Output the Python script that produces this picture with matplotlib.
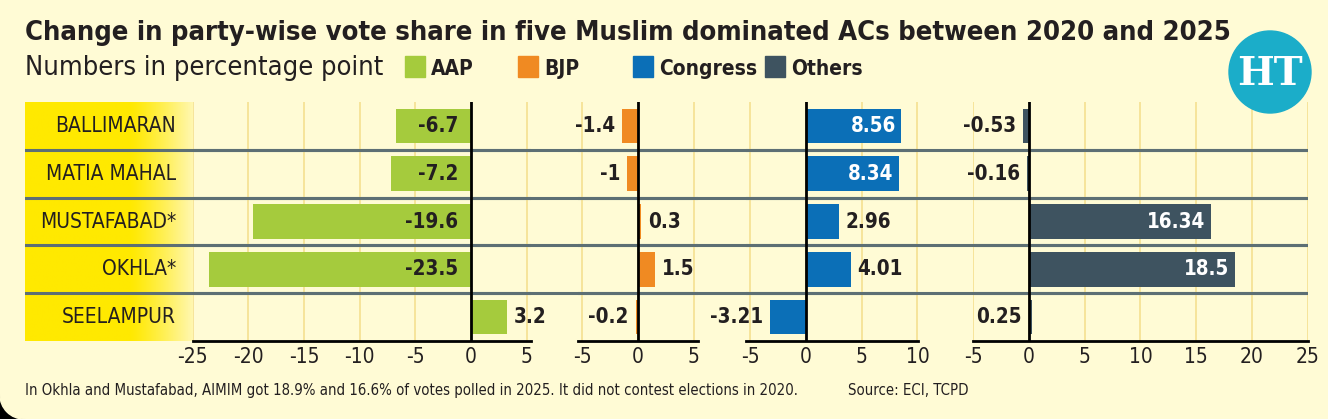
import matplotlib
matplotlib.use("Agg")
import matplotlib.pyplot as plt
from matplotlib import font_manager
import numpy as np
from matplotlib.patches import Rectangle, Circle
from matplotlib.transforms import blended_transform_factory

# data
constituencies = ["BALLIMARAN", "MATIA MAHAL", "MUSTAFABAD*", "OKHLA*", "SEELAMPUR"]
parties = ["AAP", "BJP", "Congress", "Others"]
aap = [-6.7, -7.2, -19.6, -23.5, 3.2]
bjp = [-1.4, -1, 0.3, 1.5, -0.2]
congress = [8.56, 8.34, 2.96, 4.01, -3.21]
others = [-0.53, -0.16, 16.34, 18.5, 0.25]

colors = ["#a5cb3d", "#f08a22", "#0b6fb7", "#3e5360"]
bg = "#fffbd5"
ink = "#231f20"

# look for a condensed face, else fall back to Roboto
narrow = [f for f in font_manager.fontManager.ttflist
          if f.stretch in ("condensed", "semi-condensed", "extra-condensed")
          or "Condensed" in f.name or "Narrow" in f.name]
fam = narrow[0].name if narrow else "Roboto"
stretch = narrow[0].stretch if narrow else "normal"
plt.rcParams["font.family"] = [fam, "Roboto", "DejaVu Sans"]
plt.rcParams["font.stretch"] = stretch
plt.rcParams["axes.unicode_minus"] = False

W, H = 1328, 419
fig = plt.figure(figsize=(W / 100, H / 100), dpi=100, facecolor=bg)


def fx(x):
    return x / W


def fy(y):
    return 1 - y / H


top, bottom = 102, 341
scale = 11.14  # pixels per percentage point

# full-figure overlay in pixel coords for decoration
deco = fig.add_axes([0, 0, 1, 1], zorder=-1)
deco.set_xlim(0, W)
deco.set_ylim(H, 0)
deco.axis("off")
deco.add_patch(Rectangle((0, H - 24), 24, 24, color="black"))
deco.add_patch(Circle((24, H - 24), 24, color=bg))

# label column + row separators
lab = fig.add_axes([fx(25), fy(bottom), fx(1308 - 25), (bottom - top) / H], zorder=0)
band_w = (193 - 25) / (1308 - 25)
grad = np.concatenate([np.zeros(62), np.linspace(0, 1, 38) ** 1.2])
c0 = np.array([255, 233, 0]) / 255
c1 = np.array([255, 247, 175]) / 255
img = (c0[None, :] * (1 - grad[:, None]) + c1[None, :] * grad[:, None])[None, :, :]
lab.imshow(img, extent=(0, band_w, 4.5, -0.5), aspect="auto", zorder=0)
lab.set_xlim(0, 1)
lab.set_ylim(4.5, -0.5)
lab.axis("off")
for yy in np.arange(0.5, 4.5, 1):
    lab.axhline(yy, color="#5d6f74", lw=2.2, zorder=2)
tr = blended_transform_factory(lab.transAxes, lab.transData)
for i, name in enumerate(constituencies):
    lab.text((176 - 25) / (1308 - 25), i, name, transform=tr, ha="right", va="center",
             fontsize=15, color=ink)

# party panels
series = [aap, bjp, congress, others]
xlims = [(-25, 5.4), (-5.4, 5.4), (-5.4, 10.05), (-5, 25)]
ticks = [range(-25, 6, 5), [-5, 0, 5], [-5, 0, 5, 10], range(-5, 26, 5)]
zero_px = [471, 638, 806, 1029]
inside_min = [5, 99, 5, 5]  # |value| above which the label sits inside the bar
y = np.arange(len(constituencies))
vfs = 14.8

for k, vals in enumerate(series):
    lo, hi = xlims[k]
    left = zero_px[k] + lo * scale
    ax = fig.add_axes([fx(left), fy(bottom), (hi - lo) * scale / W, (bottom - top) / H], zorder=1)
    ax.set_facecolor("none")
    ax.set_xlim(lo, hi)
    ax.set_ylim(4.5, -0.5)
    ax.set_xticks(list(ticks[k]))
    ax.set_yticks([])
    ax.grid(axis="x", color="#f6e49a", lw=1.4, zorder=0)
    ax.set_axisbelow(True)
    for s in ["top", "right", "left"]:
        ax.spines[s].set_visible(False)
    ax.spines["bottom"].set_linewidth(2)
    ax.spines["bottom"].set_color("black")
    ax.tick_params(axis="x", length=0, pad=4, labelsize=15, labelcolor=ink)
    for yy in np.arange(0.5, 4.5, 1):
        ax.axhline(yy, color="#5d6f74", lw=2.2, zorder=1)
    ax.barh(y, vals, height=0.72, color=colors[k], zorder=2)
    ax.axvline(0, color="black", lw=2, zorder=3)
    for i, v in enumerate(vals):
        txt = f"{v:g}"
        kw = dict(textcoords="offset points", va="center", fontsize=vfs,
                  fontweight="bold", color=ink, zorder=4)
        if abs(v) > inside_min[k]:
            if k == 0:
                # AAP negative labels sit inside, next to the zero line
                ax.annotate(txt, (0, i), xytext=(-9, 0), ha="right", **kw)
            else:
                kw["color"] = "white"
                ax.annotate(txt, (v, i), xytext=(-4, 0), ha="right", **kw)
        elif k == 3 and abs(v) < 1:
            ax.annotate(txt, (min(v, 0), i), xytext=(-5, 0), ha="right", **kw)
        elif v < 0:
            ax.annotate(txt, (v, i), xytext=(-5, 0), ha="right", **kw)
        else:
            ax.annotate(txt, (v, i), xytext=(5, 0), ha="left", **kw)

# title, subtitle, legend
fig.text(fx(25), fy(40), "Change in party-wise vote share in five Muslim dominated ACs between 2020 and 2025",
         fontsize=19.6, fontweight="bold", color=ink, va="baseline")
fig.text(fx(25), fy(75), "Numbers in percentage point", fontsize=19.5, color=ink, va="baseline")
leg_x = [405, 518, 633, 765]
top_ax = fig.add_axes([0, 0, 1, 1], zorder=5)
top_ax.set_xlim(0, W)
top_ax.set_ylim(H, 0)
top_ax.axis("off")
for k, p in enumerate(parties):
    top_ax.add_patch(Rectangle((leg_x[k], 56), 20, 21, color=colors[k]))
    top_ax.text(leg_x[k] + 26, 75, p, fontsize=15, fontweight="bold", color=ink, va="baseline")

# logo
top_ax.add_patch(Circle((1270, 72), 41, color="#1badc9"))
top_ax.text(1270, 74, "HT", fontsize=28, fontweight="bold", color="white", ha="center",
            va="center", family="DejaVu Serif", stretch="normal")

# footnotes
fig.text(fx(25), fy(390), "In Okhla and Mustafabad, AIMIM got 18.9% and 16.6% of votes polled in 2025. "
         "It did not contest elections in 2020.", fontsize=10.7, color=ink, va="center")
fig.text(fx(848), fy(390), "Source: ECI, TCPD", fontsize=10.7, color=ink, va="center")

fig.savefig("out.png", dpi=100, facecolor=bg)
